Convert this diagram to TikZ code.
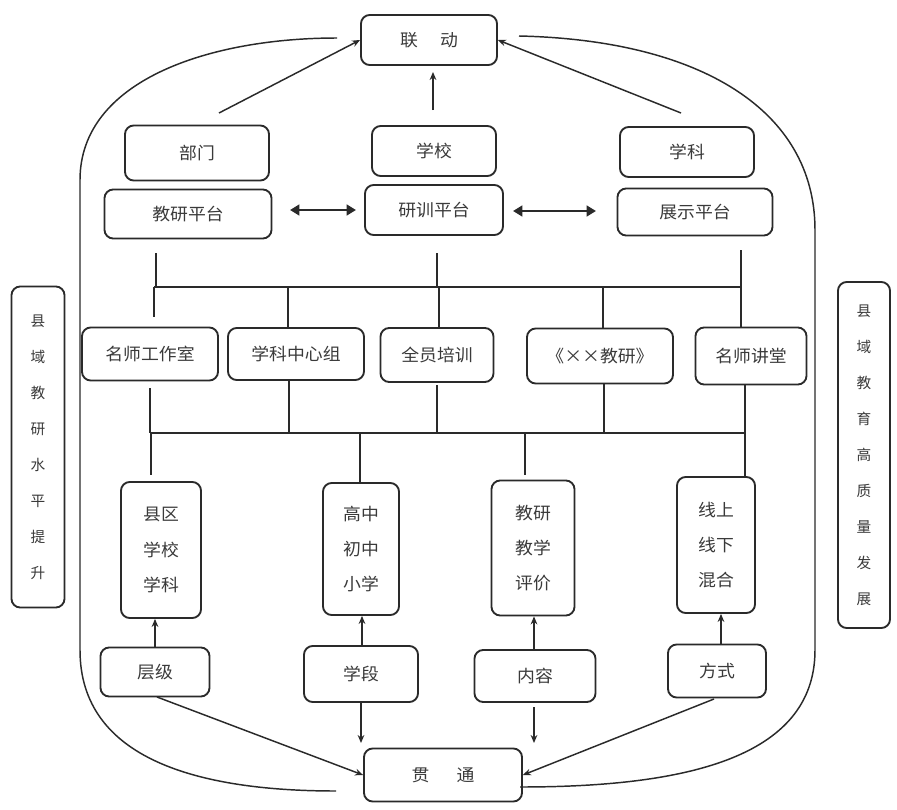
\documentclass[tikz,border=0pt]{standalone}
\usepackage{fontspec}
\newfontfamily\cjk{Noto Sans CJK SC}[FakeStretch=1.05]
\newfontfamily\cjkside{Noto Sans CJK SC}
\usetikzlibrary{arrows.meta,calc}
\definecolor{ink}{HTML}{2a2a2a}
\definecolor{txt}{HTML}{3a3a3a}
\tikzset{
  box/.style={draw=ink,line width=1.4pt,rounded corners=6.5pt,inner sep=0pt,text=txt,
    font=\cjk\fontsize{12.75}{26.5}\selectfont,align=center},
  sz/.style 2 args={minimum width={#1*0.75pt},minimum height={#2*0.75pt}},
  side/.style={box,font=\cjkside\fontsize{11}{27}\selectfont},
  ln/.style={draw=ink,line width=1.1pt},
  arr/.style={ln,-{Stealth[length=6pt,width=5pt]}},
  dbl/.style={draw=ink,line width=2.2pt,{Triangle[length=7pt,width=8pt]}-{Triangle[length=7pt,width=8pt]}},
}
\begin{document}
\begin{tikzpicture}[x=0.75pt,y=-0.75pt]
\fill[white] (0,0) rectangle (897,810);
\useasboundingbox (0,0) rectangle (897,810);

% top row
\node[box,sz={136}{50}] (lian) at (429,40) {联\hspace{1.3em}动};
\node[box,sz={144}{55}] (bumen) at (197,153) {部门};
\node[box,sz={124}{50}] (xuexiao) at (434,151) {学校};
\node[box,sz={134}{50}] (xueke) at (687,152) {学科};
\node[box,sz={167}{49}] (jypt) at (188,214) {教研平台};
\node[box,sz={138}{50}] (yxpt) at (434,210) {研训平台};
\node[box,sz={155}{47}] (zspt) at (695,212) {展示平台};

% second row
\node[box,sz={136}{53}] (mszz) at (150,354) {名师工作室};
\node[box,sz={136}{52}] (xkzx) at (296,354) {学科中心组};
\node[box,sz={113}{54}] (qypx) at (437,355) {全员培训};
\node[box,sz={146}{55}] (xxjy) at (600,356) {《××教研》};
\node[box,sz={111}{57}] (msjt) at (751,356) {名师讲堂};

% third row
\node[box,sz={80}{136}] (r1) at (161,550) {县区\\学校\\学科};
\node[box,sz={76}{132}] (r2) at (361,549) {高中\\初中\\小学};
\node[box,sz={83}{135}] (r3) at (533,548) {教研\\教学\\评价};
\node[box,sz={78}{136}] (r4) at (716,545) {线上\\线下\\混合};

% fourth row
\node[box,sz={109}{49}] (cengji) at (155,672) {层级};
\node[box,sz={114}{56}] (xueduan) at (361,674) {学段};
\node[box,sz={121}{52}] (neirong) at (535,676) {内容};
\node[box,sz={98}{53}] (fangshi) at (717,671) {方式};
\node[box,sz={158}{53}] (guantong) at (443,775) {贯\hspace{1.6em}通};

% side boxes
\node[side,sz={53}{321}] (lside) at (38,447) {县\\域\\教\\研\\水\\平\\提\\升};
\node[side,sz={52}{346}] (rside) at (864,455) {县\\域\\教\\育\\高\\质\\量\\发\\展};

% coordinates
\coordinate (bmA) at (219,113);
\coordinate (xxA) at (433,110);
\coordinate (xxB) at (433,72);
\coordinate (xkA) at (681,113);
\coordinate (d1a) at (290,210);
\coordinate (d1b) at (356,210);
\coordinate (d2a) at (513,211);
\coordinate (d2b) at (596,211);

% arrows to 联动
\draw[arr] (bmA) -- (lian.west);
\draw[arr] (xxA) -- (xxB);
\draw[arr] (xkA) -- (lian.east);
\draw[dbl] (d1a) -- (d1b);
\draw[dbl] (d2a) -- (d2b);

% upper bus
\coordinate (b1L) at (154,287);
\coordinate (b1R) at (741,287);
\draw[ln] (156,253) -- (156,287);
\draw[ln] (437,253) -- (437,287);
\draw[ln] (741,250) -- (b1R);
\draw[ln] (b1L) -- (b1R);
\draw[ln] (b1L) -- (154,317);
\draw[ln] (288,288) -- (288,0 |- xkzx.north);
\draw[ln] (439,287) -- (439,0 |- qypx.north);
\draw[ln] (603,287) -- (603,0 |- xxjy.north);
\draw[ln] (b1R) -- (741,0 |- msjt.north);

% lower bus
\coordinate (b2L) at (151,433);
\coordinate (b2R) at (745,433);
\draw[ln] (150,388) -- (150,433);
\draw[ln] (289,0 |- xkzx.south) -- (289,433);
\draw[ln] (437,385) -- (437,433);
\draw[ln] (604,383) -- (604,433);
\draw[ln] (745,385) -- (b2R);
\draw[ln] (b2L) -- (b2R);
\draw[ln] (b2L) -- (151,475);
\draw[ln] (360,433) -- (360,0 |- r2.north);
\draw[ln] (525,433) -- (525,475);
\draw[ln] (b2R) -- (745,0 |- r4.north);

% up arrows
\draw[arr] (cengji.north) -- (cengji.north |- r1.south);
\draw[arr] (362,646) -- (362,0 |- r2.south);
\draw[arr] (534,650) -- (534,0 |- r3.south);
\draw[arr] (721,645) -- (721,0 |- r4.south);

% down arrows
\draw[arr] (361,0 |- xueduan.south) -- (361,743);
\draw[arr] (534,707) -- (534,743);

% diagonals
\draw[arr] (157,697) -- (guantong.west);
\draw[arr] (714,699) -- (guantong.east);

% big side curves
\coordinate (ltop) at (337,38);
\coordinate (lbot) at (336,791);
\coordinate (rtop) at (519,36);
\coordinate (rbot) at (520,787);
\draw[ln] (ltop) .. controls (210,38) and (80,80) .. (80,180) -- (80,650)
  .. controls (80,760) and (200,791) .. (lbot);
\draw[ln] (rtop) .. controls (700,40) and (815,110) .. (815,230) -- (815,650)
  .. controls (815,760) and (680,787) .. (rbot);
\end{tikzpicture}
\end{document}
